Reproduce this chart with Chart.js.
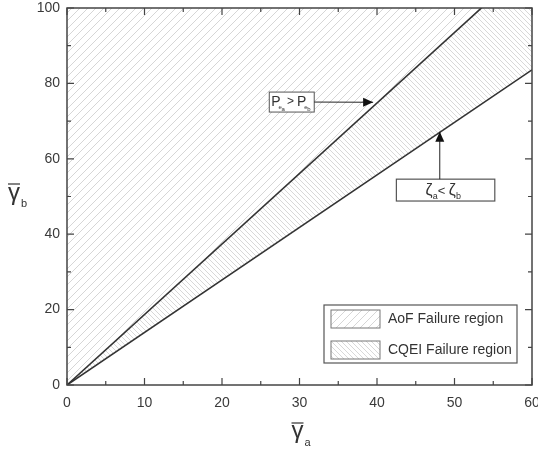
<!DOCTYPE html>
<html>
<head>
<meta charset="utf-8">
<script src="https://cdn.jsdelivr.net/npm/chart.js@4"></script>
<style>
  html, body { margin: 0; padding: 0; background: #fff; }
  #wrap { width: 538px; height: 449px; }
</style>
</head>
<body>
<div id="wrap"><canvas id="chart" width="538" height="449"></canvas></div>
<script>
// boundary lines, both start at the origin (gamma_a, gamma_b)
const xValues = [0, 60]
const aofBoundary = [0, 112.2]   // Pe_a = Pe_b line
const cqeiBoundary = [0, 83.6]   // zeta_a = zeta_b line
const regionLabels = ["AoF Failure region", "CQEI Failure region"]

// annotation boxes (data units): [x1, y1, x2, y2]
const peBox = [26.1, 77.7, 31.9, 72.4]
const peArrowTip = [39.5, 75]
const zetaBox = [42.5, 54.6, 55.2, 48.8]
const zetaArrowTip = [48.1, 67.2]

const FONT = '"Liberation Sans", Arial, sans-serif'
const ink = '#333'

const ctx = document.getElementById('chart').getContext('2d')

function hatch(size, dir, color) {
    const c = document.createElement('canvas')
    c.width = size; c.height = size
    const g = c.getContext('2d')
    g.strokeStyle = color
    g.lineWidth = 1
    g.beginPath()
    if (dir > 0) {
        g.moveTo(-1, size + 1); g.lineTo(size + 1, -1)
        g.moveTo(-1, 1); g.lineTo(1, -1)
        g.moveTo(size - 1, size + 1); g.lineTo(size + 1, size - 1)
    } else {
        g.moveTo(-1, -1); g.lineTo(size + 1, size + 1)
        g.moveTo(size - 1, -1); g.lineTo(size + 1, 1)
        g.moveTo(-1, size - 1); g.lineTo(1, size + 1)
    }
    g.stroke()
    return ctx.createPattern(c, 'repeat')
}

const aofPattern = hatch(8, 1, '#d6d6d6')
const cqeiPattern = hatch(5, -1, '#d8d8d8')

function toPts(ys) {
    return xValues.map((x, i) => ({x: x, y: ys[i]}))
}

function sub(g, txt, x, y, size) {
    g.font = size + 'px ' + FONT
    g.fillText(txt, x, y)
    return x + g.measureText(txt).width
}

function arrow(g, x1, y1, x2, y2) {
    g.beginPath()
    g.moveTo(x1, y1); g.lineTo(x2, y2)
    g.stroke()
    const a = Math.atan2(y2 - y1, x2 - x1)
    const L = 10, W = 4.5
    g.beginPath()
    g.moveTo(x2, y2)
    g.lineTo(x2 - L * Math.cos(a) + W * Math.sin(a), y2 - L * Math.sin(a) - W * Math.cos(a))
    g.lineTo(x2 - L * Math.cos(a) - W * Math.sin(a), y2 - L * Math.sin(a) + W * Math.cos(a))
    g.closePath()
    g.fill()
}

const decor = {
    id: 'decor',
    afterDraw(chart) {
        const g = chart.ctx
        const a = chart.chartArea
        const xs = chart.scales.x, ys = chart.scales.y
        g.save()
        g.strokeStyle = '#444'
        g.fillStyle = '#222'
        g.lineWidth = 1.5
        g.strokeRect(a.left, a.top, a.right - a.left, a.bottom - a.top)

        // inside ticks on all four sides
        g.lineWidth = 1.2
        g.beginPath()
        for (let v = 0; v <= 60; v += 5) {
            const px = xs.getPixelForValue(v)
            const len = v % 10 === 0 ? 7 : 4
            g.moveTo(px, a.bottom); g.lineTo(px, a.bottom - len)
            g.moveTo(px, a.top); g.lineTo(px, a.top + len)
        }
        for (let v = 0; v <= 100; v += 10) {
            const py = ys.getPixelForValue(v)
            const len = v % 20 === 0 ? 7 : 4
            g.moveTo(a.left, py); g.lineTo(a.left + len, py)
            g.moveTo(a.right, py); g.lineTo(a.right - len, py)
        }
        g.stroke()

        // axis titles
        g.fillStyle = ink
        g.strokeStyle = ink
        g.lineWidth = 1.2
        g.textBaseline = 'alphabetic'
        g.textAlign = 'left'
        // x title
        let tx = (a.left + a.right) / 2 - 8
        g.font = '24px ' + FONT
        let w = g.measureText('γ').width
        g.fillText('γ', tx, 438)
        g.beginPath(); g.moveTo(tx, 423); g.lineTo(tx + w, 423); g.stroke()
        sub(g, 'a', tx + w + 1, 446, 11)
        // y title
        tx = 8
        g.font = '24px ' + FONT
        g.fillText('γ', tx, 200)
        g.beginPath(); g.moveTo(tx, 184); g.lineTo(tx + w, 184); g.stroke()
        sub(g, 'b', tx + w + 1, 207, 11)

        // annotation: Pe_a > Pe_b
        g.lineWidth = 1
        let bx1 = xs.getPixelForValue(peBox[0]), by1 = ys.getPixelForValue(peBox[1])
        let bx2 = xs.getPixelForValue(peBox[2]), by2 = ys.getPixelForValue(peBox[3])
        g.fillStyle = '#fff'
        g.fillRect(bx1, by1, bx2 - bx1, by2 - by1)
        g.strokeStyle = '#555'
        g.strokeRect(bx1, by1, bx2 - bx1, by2 - by1)
        g.fillStyle = ink
        let cx = bx1 + 2, base = by1 + 14
        cx = sub(g, 'P', cx, base, 14)
        sub(g, 'e', cx - 2, base + 3, 6)
        cx = sub(g, 'a', cx + 1, base + 5, 6)
        cx = sub(g, '>', cx + 2, base - 1, 12)
        cx = sub(g, 'P', cx + 3, base, 14)
        sub(g, 'e', cx - 2, base + 3, 6)
        sub(g, 'b', cx + 1, base + 5, 6)
        g.strokeStyle = '#222'
        g.fillStyle = '#111'
        g.lineWidth = 1
        arrow(g, bx2, (by1 + by2) / 2, xs.getPixelForValue(peArrowTip[0]), ys.getPixelForValue(peArrowTip[1]))

        // annotation: zeta_a < zeta_b
        bx1 = xs.getPixelForValue(zetaBox[0]); by1 = ys.getPixelForValue(zetaBox[1])
        bx2 = xs.getPixelForValue(zetaBox[2]); by2 = ys.getPixelForValue(zetaBox[3])
        g.fillStyle = '#fff'
        g.fillRect(bx1, by1, bx2 - bx1, by2 - by1)
        g.strokeStyle = '#555'
        g.lineWidth = 1.2
        g.strokeRect(bx1, by1, bx2 - bx1, by2 - by1)
        g.fillStyle = ink
        base = by1 + 16
        cx = (bx1 + bx2) / 2 - 20
        cx = sub(g, 'ζ', cx, base, 16)
        cx = sub(g, 'a', cx, base + 4, 9)
        cx = sub(g, '< ', cx, base, 13)
        cx = sub(g, 'ζ', cx, base, 16)
        sub(g, 'b', cx, base + 4, 9)
        g.strokeStyle = '#222'
        g.fillStyle = '#111'
        g.lineWidth = 1
        const zx = xs.getPixelForValue(zetaArrowTip[0])
        arrow(g, zx, by1, zx, ys.getPixelForValue(zetaArrowTip[1]))

        // legend box, bottom right inside plot
        const lx1 = a.right - 208, ly1 = a.bottom - 80
        const lx2 = a.right - 15, ly2 = a.bottom - 22
        g.fillStyle = '#fff'
        g.fillRect(lx1, ly1, lx2 - lx1, ly2 - ly1)
        g.strokeStyle = '#555'
        g.lineWidth = 1.2
        g.strokeRect(lx1, ly1, lx2 - lx1, ly2 - ly1)
        const pats = [aofPattern, cqeiPattern]
        regionLabels.forEach((lab, i) => {
            const sy = ly1 + 5 + i * 31
            g.fillStyle = pats[i]
            g.fillRect(lx1 + 7, sy, 49, 18)
            g.strokeStyle = '#777'
            g.lineWidth = 1
            g.strokeRect(lx1 + 7, sy, 49, 18)
            g.fillStyle = ink
            g.font = '14px ' + FONT
            g.textBaseline = 'middle'
            g.fillText(lab, lx1 + 64, sy + 9)
        })
        g.restore()
    }
}

const chart = new Chart(ctx, {
    type: 'line',
    data: {
        datasets: [{
            label: regionLabels[0],
            data: toPts(aofBoundary),
            borderColor: '#333',
            borderWidth: 1.6,
            pointRadius: 0,
            backgroundColor: aofPattern,
            fill: 'end'
        }, {
            label: regionLabels[1],
            data: toPts(cqeiBoundary),
            borderColor: '#333',
            borderWidth: 1.6,
            pointRadius: 0,
            backgroundColor: cqeiPattern,
            fill: 0
        }]
    },
    options: {
        responsive: false,
        animation: false,
        layout: { padding: { top: 8, right: 6, left: 0, bottom: 0 } },
        plugins: { legend: { display: false }, tooltip: { enabled: false } },
        scales: {
            x: {
                type: 'linear',
                min: 0, max: 60,
                grid: { display: false, drawTicks: false },
                border: { display: false },
                ticks: { stepSize: 10, padding: 10, color: '#3a3a3a', maxRotation: 0,
                         font: { family: FONT, size: 14 } },
                afterFit(s) { s.height = 64; s.paddingLeft = 0; s.paddingRight = 0 }
            },
            y: {
                min: 0, max: 100,
                grid: { display: false, drawTicks: false },
                border: { display: false },
                ticks: { stepSize: 20, padding: 7, color: '#3a3a3a',
                         font: { family: FONT, size: 14 } },
                afterFit(s) { s.width = 67; s.paddingTop = 0; s.paddingBottom = 0 }
            }
        }
    },
    plugins: [decor]
})
</script>
</body>
</html>
